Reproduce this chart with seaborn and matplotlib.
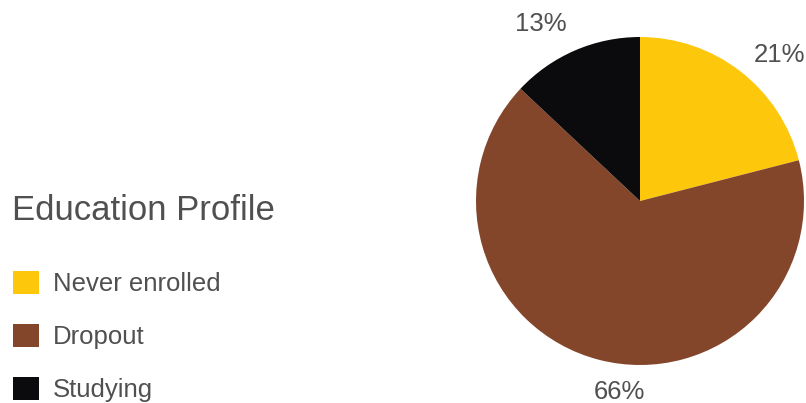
import matplotlib
matplotlib.use("Agg")
import matplotlib.pyplot as plt
import matplotlib.patches as mpatches
import seaborn as sns

categories = ["Never enrolled", "Dropout", "Studying"]
values = [21, 66, 13]
colors = ["#FDC80C", "#84462A", "#0B0B0D"]
title = "Education Profile"

sns.set_theme(style="white")
plt.rcParams['font.family'] = ['Liberation Sans', 'DejaVu Sans']
text_color = "#505050"

fig = plt.figure(figsize=(8.06, 4.03), dpi=100)
W, H = 806, 403
cx, cy, r = 640, 201, 164
ax = fig.add_axes([(cx - r) / W, (H - cy - r) / H, 2 * r / W, 2 * r / H])
palette = sns.color_palette(colors)

wedges, texts, autotexts = ax.pie(
    values, colors=palette, startangle=90, counterclock=False,
    autopct=lambda p: f"{p:.0f}%", pctdistance=1.13,
    wedgeprops=dict(linewidth=0),
    textprops=dict(color=text_color, fontsize=18.5),
)
# label anchoring per slice (outside labels)
label_ha = ["left", "left", "right"]
label_va = ["center", "top", "baseline"]
for t, ha, va in zip(autotexts, label_ha, label_va):
    t.set_ha(ha)
    t.set_va(va)
ax.set_xlim(-1, 1)
ax.set_ylim(-1, 1)
ax.set_aspect("equal")
ax.axis("off")

fig.text(12 / W, 1 - 210 / H, title, fontsize=25, color=text_color,
         ha="left", va="center")

handles = [mpatches.Patch(facecolor=c, edgecolor="none") for c in palette]
leg = fig.legend(
    handles, categories, loc="upper left",
    bbox_to_anchor=(13 / W, (H - 271) / H), frameon=False,
    fontsize=18.5, handlelength=1.0, handleheight=1.0, handletextpad=0.55,
    labelspacing=1.08, borderaxespad=0, borderpad=0,
)
for t in leg.get_texts():
    t.set_color(text_color)

fig.savefig("out.png", dpi=100)
